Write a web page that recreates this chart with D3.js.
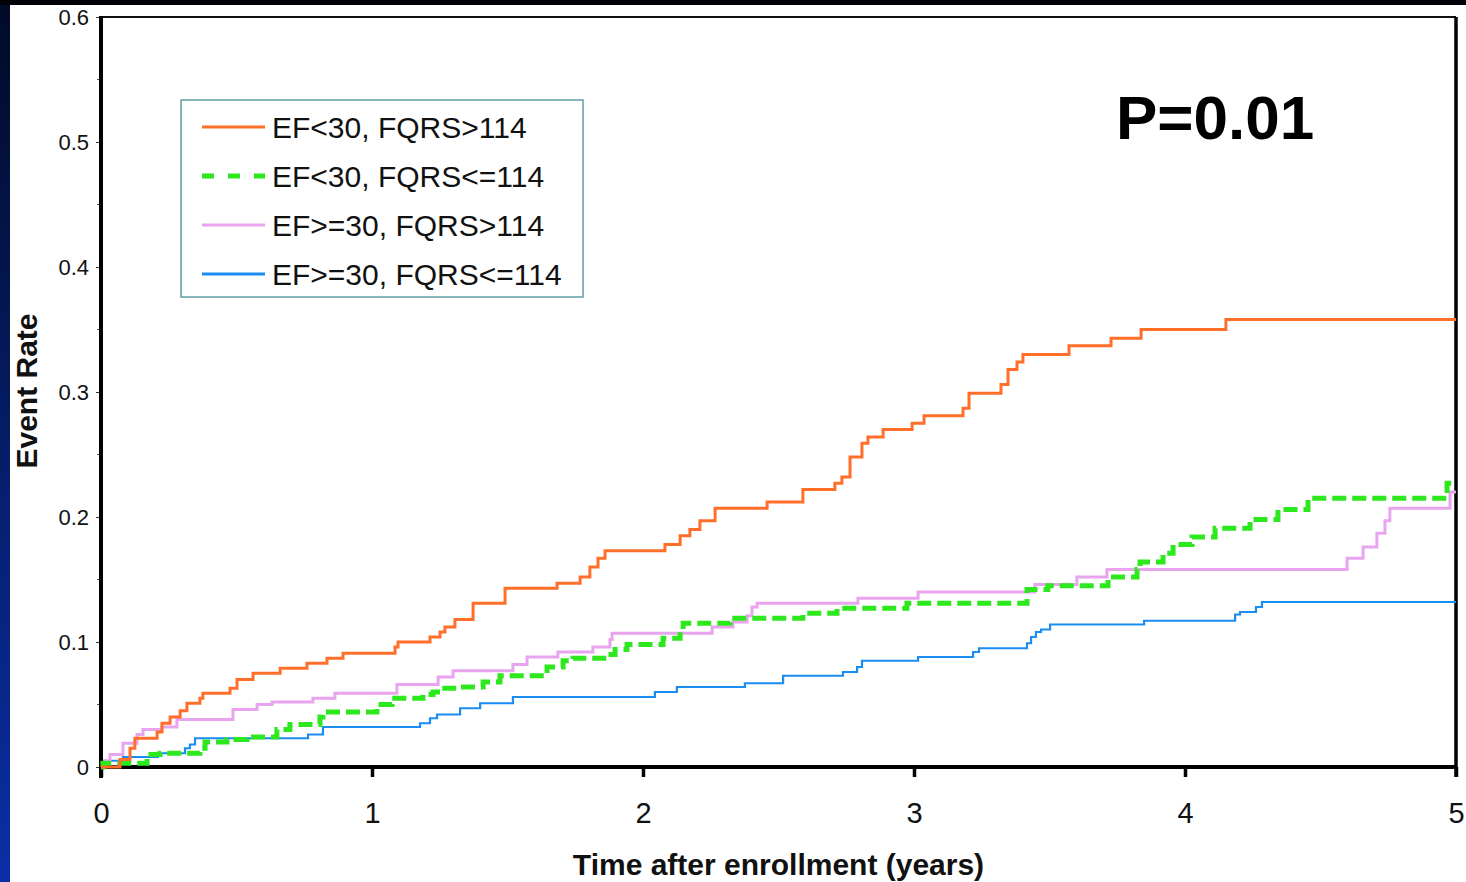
<!DOCTYPE html>
<meta charset="utf-8">
<head>
  <title>Event rate by EF and FQRS</title>
  <style>
    body { margin: 0; background: #000; }
    svg { display: block; }
  </style>
</head>
<body>
<script src="https://d3js.org/d3.v7.min.js"></script>
<div id="chart"></div>
<script>

// ---- data: [years, event rate] at each step ----
var seriesNames = ["EF<30, FQRS>114", "EF<30, FQRS<=114", "EF>=30, FQRS>114", "EF>=30, FQRS<=114"];

var lowEfWide = [[0,0],[0.070,0.006],[0.107,0.015],[0.125,0.023],[0.207,0.028],[0.225,0.035],[0.255,0.040],
  [0.292,0.045],[0.317,0.051],[0.365,0.055],[0.376,0.059],[0.476,0.063],[0.502,0.070],[0.561,0.075],
  [0.661,0.079],[0.760,0.083],[0.834,0.087],[0.893,0.091],[1.085,0.096],[1.096,0.100],[1.214,0.104],
  [1.251,0.108],[1.269,0.112],[1.306,0.118],[1.373,0.131],[1.491,0.143],[1.683,0.147],[1.768,0.152],
  [1.804,0.160],[1.834,0.167],[1.860,0.173],[2.081,0.178],[2.137,0.185],[2.173,0.190],[2.210,0.197],
  [2.266,0.207],[2.458,0.212],[2.590,0.222],[2.708,0.227],[2.734,0.232],[2.764,0.248],[2.808,0.259],
  [2.830,0.264],[2.886,0.270],[2.993,0.275],[3.037,0.281],[3.181,0.287],[3.203,0.299],[3.321,0.306],
  [3.347,0.318],[3.380,0.324],[3.402,0.330],[3.572,0.337],[3.727,0.343],[3.838,0.350],[4.151,0.358],
  [5.0,0.358]];

var lowEfNarrow = [[0,0],[0.007,0.003],[0.170,0.010],[0.218,0.011],[0.365,0.015],[0.384,0.020],[0.465,0.022],
  [0.539,0.024],[0.649,0.030],[0.697,0.034],[0.808,0.040],[0.819,0.044],[1.018,0.050],[1.074,0.055],
  [1.188,0.058],[1.225,0.060],[1.251,0.063],[1.314,0.064],[1.410,0.068],[1.472,0.073],[1.646,0.080],
  [1.705,0.085],[1.742,0.087],[1.871,0.090],[1.897,0.094],[1.941,0.098],[2.074,0.103],[2.137,0.110],
  [2.148,0.115],[2.321,0.119],[2.590,0.123],[2.716,0.127],[2.974,0.131],[3.417,0.142],[3.494,0.145],
  [3.716,0.152],[3.823,0.158],[3.834,0.164],[3.919,0.171],[3.956,0.178],[4.026,0.184],[4.111,0.191],
  [4.240,0.198],[4.343,0.206],[4.454,0.215],[4.967,0.227],[5.0,0.227]];

var highEfWide = [[0,0],[0.015,0.005],[0.033,0.010],[0.081,0.019],[0.133,0.026],[0.155,0.030],[0.225,0.032],
  [0.280,0.038],[0.487,0.046],[0.576,0.050],[0.631,0.052],[0.782,0.055],[0.863,0.059],[1.092,0.066],
  [1.244,0.072],[1.299,0.077],[1.520,0.082],[1.572,0.088],[1.686,0.092],[1.815,0.096],[1.878,0.102],
  [1.886,0.107],[2.255,0.112],[2.332,0.116],[2.384,0.121],[2.402,0.128],[2.421,0.131],[2.793,0.135],
  [3.015,0.140],[3.446,0.146],[3.601,0.152],[3.712,0.158],[4.598,0.167],[4.657,0.176],[4.708,0.187],
  [4.738,0.197],[4.756,0.207],[4.978,0.220],[5.0,0.220]];

var highEfNarrow = [[0,0],[0.011,0.005],[0.081,0.008],[0.210,0.011],[0.310,0.015],[0.328,0.018],[0.347,0.023],
  [0.764,0.026],[0.819,0.032],[1.177,0.035],[1.214,0.039],[1.240,0.042],[1.325,0.047],[1.399,0.051],
  [1.520,0.056],[2.044,0.060],[2.125,0.064],[2.376,0.067],[2.517,0.073],[2.738,0.076],[2.790,0.080],
  [2.808,0.085],[3.015,0.088],[3.218,0.092],[3.240,0.095],[3.417,0.099],[3.432,0.104],[3.450,0.108],
  [3.469,0.110],[3.502,0.114],[3.849,0.117],[4.185,0.122],[4.203,0.124],[4.262,0.128],[4.284,0.132],
  [5.0,0.132]];

var xTicks = [0, 1, 2, 3, 4, 5];
var yTicks = [0, 0.1, 0.2, 0.3, 0.4, 0.5, 0.6];
var yMinorTicks = [0.05, 0.15, 0.25, 0.35, 0.45, 0.55];

// ---- drawing ----
var W = 1466, H = 882;
var plotLeft = 101, plotRight = 1456, plotTop = 17, plotBottom = 767;

var svg = d3.select("#chart").append("svg")
    .attr("width", W)
    .attr("height", H);

// slide background: dark at top, brighter blue down the left edge
var defs = svg.append("defs");
var grad = defs.append("linearGradient")
    .attr("id", "bg").attr("x1", 0).attr("y1", 0).attr("x2", 0).attr("y2", 1);
grad.append("stop").attr("offset", "0%").attr("stop-color", "#010a26");
grad.append("stop").attr("offset", "100%").attr("stop-color", "#0a2fa6");

svg.append("rect").attr("width", W).attr("height", H).attr("fill", "url(#bg)");
svg.append("rect").attr("width", W).attr("height", 5).attr("fill", "#010208");
svg.append("rect")
    .attr("x", 10).attr("y", 5)
    .attr("width", W - 10).attr("height", H - 5)
    .attr("fill", "#fff");

var x = d3.scaleLinear().domain([0, 5]).range([plotLeft, plotRight]);
var y = d3.scaleLinear().domain([0, 0.6]).range([plotBottom, plotTop]);

// frame: thin top, thick left/bottom/right
svg.append("line")
    .attr("x1", x(0)).attr("x2", x(5)).attr("y1", y(0.6)).attr("y2", y(0.6))
    .style("stroke", "#111").style("stroke-width", 2);
svg.append("line")
    .attr("x1", x(5)).attr("x2", x(5)).attr("y1", y(0.6)).attr("y2", y(0) + 10)
    .style("stroke", "#000").style("stroke-width", 3.5);

// y axis
var yAxis = svg.append("g")
    .attr("transform", "translate(" + plotLeft + ",0)")
    .call(d3.axisLeft(y).tickValues(yTicks).tickSize(5).tickFormat(function(d) { return d === 0 ? "0" : d3.format(".1f")(d); }));
yAxis.select(".domain").remove();
yAxis.selectAll("text")
    .style("font", "22px Arial, 'Liberation Sans', sans-serif")
    .style("fill", "#111")
    .attr("x", -12)
    .attr("dy", "0.33em");
yAxis.selectAll("line").style("stroke", "#333").style("stroke-width", 1);

svg.append("g")
    .selectAll("line")
    .data(yMinorTicks)
    .enter().append("line")
      .attr("x1", plotLeft - 4).attr("x2", plotLeft)
      .attr("y1", function(d) { return y(d); })
      .attr("y2", function(d) { return y(d); })
      .style("stroke", "#555").style("stroke-width", 1);

svg.append("line")
    .attr("x1", plotLeft).attr("x2", plotLeft).attr("y1", y(0.6) - 1).attr("y2", y(0) + 11)
    .style("stroke", "#000").style("stroke-width", 4);

// x axis
var xAxis = svg.append("g")
    .attr("transform", "translate(0," + plotBottom + ")")
    .call(d3.axisBottom(x).tickValues(xTicks).tickSize(10).tickFormat(d3.format("d")));
xAxis.select(".domain").remove();
xAxis.selectAll("line").style("stroke", "#000").style("stroke-width", 3.5);
xAxis.selectAll("text")
    .style("font", "29px Arial, 'Liberation Sans', sans-serif")
    .style("fill", "#111")
    .attr("y", 56)
    .attr("dy", 0);

svg.append("line")
    .attr("x1", plotLeft).attr("x2", plotRight + 1).attr("y1", plotBottom).attr("y2", plotBottom)
    .style("stroke", "#000").style("stroke-width", 4);

// axis titles
svg.append("text")
    .attr("x", (plotLeft + plotRight) / 2)
    .attr("y", 875)
    .attr("text-anchor", "middle")
    .style("font", "bold 30px Arial, 'Liberation Sans', sans-serif")
    .style("fill", "#111")
    .text("Time after enrollment (years)");

svg.append("text")
    .attr("transform", "translate(37,391) rotate(-90)")
    .attr("text-anchor", "middle")
    .style("font", "bold 30px Arial, 'Liberation Sans', sans-serif")
    .style("fill", "#111")
    .text("Event Rate");

// curves
var styles = [
  {data: lowEfWide,    color: "#ff6f2a", width: 3,   dash: null},
  {data: lowEfNarrow,  color: "#2ee81e", width: 5,   dash: "14,6"},
  {data: highEfWide,   color: "#e8a4ef", width: 3,   dash: null},
  {data: highEfNarrow, color: "#1b8cf2", width: 2.2, dash: null}
];

var line = d3.line()
    .curve(d3.curveStepAfter)
    .x(function(d) { return x(d[0]); })
    .y(function(d) { return y(d[1]); });

// draw blue first, orange last, like the original
[3, 2, 1, 0].forEach(function(i) {
  var s = styles[i];
  svg.append("path")
      .datum(s.data)
      .attr("d", line)
      .style("fill", "none")
      .style("stroke", s.color)
      .style("stroke-width", s.width)
      .style("stroke-dasharray", s.dash);
});

// legend
var legend = svg.append("g").attr("transform", "translate(181,100)");
legend.append("rect")
    .attr("width", 402).attr("height", 197)
    .style("fill", "#fff")
    .style("stroke", "#5f9ea6")
    .style("stroke-width", 1.5);

var rows = legend.selectAll("g.row")
    .data(seriesNames)
    .enter().append("g")
      .attr("class", "row")
      .attr("transform", function(d, i) { return "translate(0," + (27 + i * 49) + ")"; });

rows.append("line")
    .attr("x1", 21).attr("x2", 84)
    .style("stroke", function(d, i) { return styles[i].color; })
    .style("stroke-width", function(d, i) { return i === 1 ? 5 : 3; })
    .style("stroke-dasharray", function(d, i) { return i === 1 ? "12,14" : null; });

rows.append("text")
    .attr("x", 91)
    .attr("dy", "0.36em")
    .style("font", "30px Arial, 'Liberation Sans', sans-serif")
    .style("fill", "#111")
    .text(function(d) { return d; });

// p value
svg.append("text")
    .attr("x", 1116)
    .attr("y", 139)
    .style("font", "bold 62px Arial, 'Liberation Sans', sans-serif")
    .style("fill", "#000")
    .text("P=0.01");

</script>
</body>
</html>
